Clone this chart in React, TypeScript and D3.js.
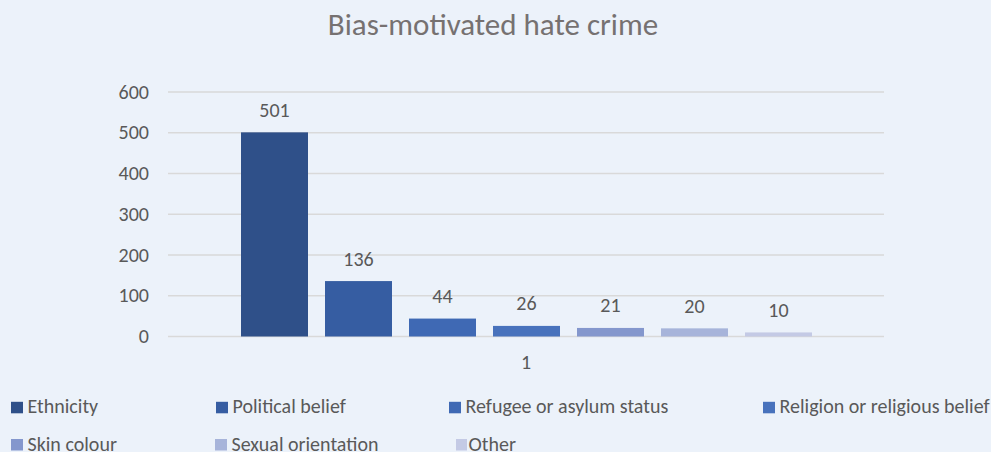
import React from "react";
import * as d3 from "d3";

const categories = ["Ethnicity", "Political belief", "Refugee or asylum status", "Religion or religious belief", "Skin colour", "Sexual orientation", "Other"];
const values = [501, 136, 44, 26, 21, 20, 10];
const colors = ["#2F5089", "#365DA2", "#3F69B4", "#4872BC", "#8497CD", "#A7B4DA", "#C4CAE5"];
const yTicks = [0, 100, 200, 300, 400, 500, 600];
const groupLabel = "1";
const legendX = [11, 216, 449, 763, 11, 215, 456];
const legendRow = [0, 0, 0, 0, 1, 1, 1];

export default function App() {
  const W = 991, H = 452;
  const x0 = 168, x1 = 884;
  const y = d3.scaleLinear().domain([0, 600]).range([336.5, 92]);
  const band = d3.scaleBand<string>().domain(categories).range([241, 812]).paddingInner(17 / 84).paddingOuter(0);
  const font = "Carlito, Calibri, 'Open Sans', 'Liberation Sans', sans-serif";
  return (
    <svg width={W} height={H} style={{ position: "absolute", left: 0, top: 0, background: "#ECF2FA" }} fontFamily={font}>
      <rect x={0} y={0} width={W} height={H} fill="#ECF2FA" />
      <text x={493} y={35} textAnchor="middle" fontSize={31} fill="#767171">Bias-motivated hate crime</text>
      {yTicks.map((t) => (
        <g key={t}>
          <line x1={x0} x2={x1} y1={y(t)} y2={y(t)} stroke="#D9D9D9" strokeWidth={1.5} />
          <text x={149} y={y(t) + 6.5} textAnchor="end" fontSize={20} fill="#595959">{t}</text>
        </g>
      ))}
      {categories.map((c, i) => (
        <g key={c}>
          <rect x={band(c)} y={y(values[i])} width={band.bandwidth()} height={y(0) - y(values[i])} fill={colors[i]} />
          <text x={(band(c) as number) + band.bandwidth() / 2} y={y(values[i]) - 15.5} textAnchor="middle" fontSize={20} fill="#595959">{values[i]}</text>
        </g>
      ))}
      <text x={526} y={369} textAnchor="middle" fontSize={20} fill="#595959">{groupLabel}</text>
      {categories.map((c, i) => {
        const row = legendRow[i];
        const ly = row === 0 ? 413.3 : 450.5;
        return (
          <g key={"l" + c}>
            <rect x={legendX[i]} y={ly - 11.5} width={i === 6 ? 11 : 12} height={11.5} fill={colors[i]} />
            <text x={legendX[i] + (i === 6 ? 12.5 : 16.5)} y={ly} fontSize={20} fill="#595959">{c}</text>
          </g>
        );
      })}
    </svg>
  );
}
